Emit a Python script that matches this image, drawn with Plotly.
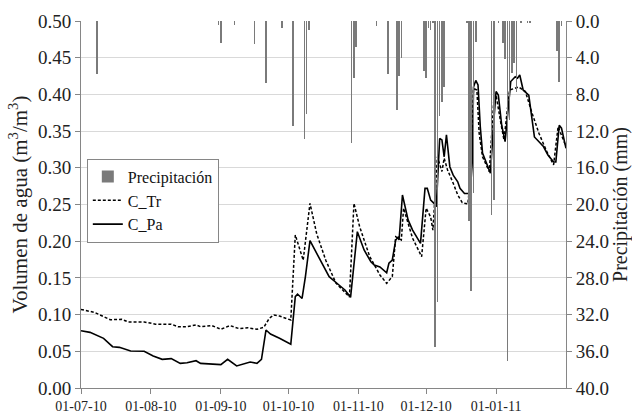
import plotly.graph_objects as go

# ---- Data ----
tr_dates = ["2010-07-01", "2010-07-07", "2010-07-14", "2010-07-19", "2010-07-22", "2010-07-29",
            "2010-08-03", "2010-08-10", "2010-08-13", "2010-08-17", "2010-08-21", "2010-08-23",
            "2010-08-28", "2010-09-01", "2010-09-05", "2010-09-09", "2010-09-13", "2010-09-17",
            "2010-09-20", "2010-09-22 12:00", "2010-09-24 12:00", "2010-09-27", "2010-10-02",
            "2010-10-04", "2010-10-07 12:00", "2010-10-10 12:00", "2010-10-13 12:00",
            "2010-10-17 12:00", "2010-10-22", "2010-10-28", "2010-10-30", "2010-11-01 12:00",
            "2010-11-06", "2010-11-10 12:00", "2010-11-13 12:00", "2010-11-16", "2010-11-17 12:00",
            "2010-11-20", "2010-11-21", "2010-11-25", "2010-11-29", "2010-12-01", "2010-12-03",
            "2010-12-04", "2010-12-06", "2010-12-08", "2010-12-09", "2010-12-10 12:00",
            "2010-12-13", "2010-12-15", "2010-12-17", "2010-12-19 12:00", "2010-12-21",
            "2010-12-22", "2010-12-23 12:00", "2010-12-24 12:00", "2010-12-26", "2010-12-29",
            "2010-12-31", "2011-01-01", "2011-01-03", "2011-01-04 12:00", "2011-01-06",
            "2011-01-07", "2011-01-11", "2011-01-14", "2011-01-17", "2011-01-20",
            "2011-01-23 12:00", "2011-01-26 12:00", "2011-01-28 12:00", "2011-01-30", "2011-02-01"]
tr_values = [0.107, 0.103, 0.093, 0.0936, 0.090, 0.090,
             0.087, 0.087, 0.0835, 0.0835, 0.086, 0.0835,
             0.085, 0.080, 0.085, 0.081, 0.082, 0.080,
             0.0826, 0.095, 0.0995, 0.098, 0.0926,
             0.2085, 0.174, 0.2516, 0.210,
             0.174, 0.143, 0.124, 0.2516, 0.220,
             0.179, 0.154, 0.1426, 0.1517, 0.206,
             0.2016, 0.245, 0.204, 0.179, 0.245, 0.233,
             0.215, 0.315, 0.295, 0.313, 0.297,
             0.279, 0.263, 0.2525, 0.2507, 0.297,
             0.408, 0.406, 0.347, 0.315, 0.2947,
             0.392, 0.399, 0.363, 0.338, 0.379,
             0.406, 0.410, 0.404, 0.374, 0.347,
             0.322, 0.304, 0.356, 0.345, 0.329]

pa_dates = ["2010-07-01", "2010-07-05", "2010-07-11", "2010-07-15", "2010-07-18", "2010-07-23",
            "2010-07-29", "2010-08-02", "2010-08-06", "2010-08-10", "2010-08-14", "2010-08-17",
            "2010-08-21", "2010-08-23", "2010-09-01", "2010-09-04", "2010-09-08", "2010-09-14",
            "2010-09-17", "2010-09-19", "2010-09-21", "2010-09-23", "2010-09-27", "2010-10-02",
            "2010-10-04", "2010-10-05", "2010-10-07", "2010-10-08 12:00", "2010-10-10 12:00",
            "2010-10-13 12:00", "2010-10-16", "2010-10-19", "2010-10-23 12:00", "2010-10-26",
            "2010-10-28 12:00", "2010-10-31 12:00", "2010-11-03 12:00", "2010-11-06 12:00",
            "2010-11-08", "2010-11-10 12:00", "2010-11-13 12:00", "2010-11-14 12:00",
            "2010-11-16", "2010-11-17 12:00", "2010-11-18 12:00", "2010-11-19",
            "2010-11-20 12:00", "2010-11-23", "2010-11-25", "2010-11-28 12:00",
            "2010-11-30 12:00", "2010-12-01 12:00", "2010-12-03", "2010-12-04 12:00",
            "2010-12-05 12:00", "2010-12-07", "2010-12-08", "2010-12-09", "2010-12-10",
            "2010-12-11 12:00", "2010-12-13", "2010-12-15", "2010-12-16", "2010-12-18",
            "2010-12-20 12:00", "2010-12-21 12:00", "2010-12-22", "2010-12-23", "2010-12-24",
            "2010-12-25", "2010-12-26", "2010-12-28", "2010-12-29 12:00", "2010-12-31",
            "2011-01-01", "2011-01-02", "2011-01-03 12:00", "2011-01-05", "2011-01-06",
            "2011-01-07 12:00", "2011-01-09 12:00", "2011-01-10 12:00", "2011-01-11 12:00",
            "2011-01-13", "2011-01-15 12:00", "2011-01-18", "2011-01-22", "2011-01-24",
            "2011-01-26 12:00", "2011-01-27 12:00", "2011-01-29", "2011-01-30", "2011-02-01"]
pa_values = [0.078, 0.0758, 0.0677, 0.0563, 0.0554, 0.0504,
             0.050, 0.0436, 0.039, 0.040, 0.0336, 0.0345,
             0.0372, 0.0336, 0.0318, 0.039, 0.030, 0.0354,
             0.0336, 0.039, 0.079, 0.0736, 0.0677, 0.0595,
             0.1244, 0.128, 0.122, 0.152, 0.2007,
             0.1835, 0.1676, 0.1516, 0.140, 0.1335,
             0.1235, 0.213, 0.188, 0.172,
             0.1676, 0.165, 0.157, 0.170,
             0.1744, 0.2016, 0.205, 0.2016,
             0.263, 0.229, 0.215, 0.197,
             0.272, 0.272, 0.256, 0.2516,
             0.247, 0.340, 0.338, 0.315, 0.345,
             0.3015, 0.290, 0.281, 0.272, 0.265,
             0.265, 0.310, 0.410, 0.419, 0.413,
             0.356, 0.320, 0.304, 0.2925, 0.365,
             0.404, 0.399, 0.358, 0.3356, 0.370,
             0.4175, 0.424, 0.422, 0.4265,
             0.406, 0.399, 0.342, 0.329, 0.3175,
             0.308, 0.308, 0.358, 0.354, 0.3265]

rain_dates = ["2010-07-08", "2010-08-31", "2010-09-01", "2010-09-07", "2010-09-16", "2010-09-21",
              "2010-09-28", "2010-10-03", "2010-10-08", "2010-10-09", "2010-10-10", "2010-10-29",
              "2010-10-30", "2010-10-31", "2010-11-09", "2010-11-14", "2010-11-18", "2010-11-19",
              "2010-11-20", "2010-11-30", "2010-12-01", "2010-12-02", "2010-12-03", "2010-12-04",
              "2010-12-05", "2010-12-06", "2010-12-07", "2010-12-08", "2010-12-09", "2010-12-19",
              "2010-12-20", "2010-12-21", "2010-12-22", "2010-12-23", "2010-12-30", "2010-12-31",
              "2011-01-02", "2011-01-04", "2011-01-05", "2011-01-06", "2011-01-07", "2011-01-08",
              "2011-01-09", "2011-01-10", "2011-01-12", "2011-01-15", "2011-01-16", "2011-01-28",
              "2011-01-29", "2011-01-30"]
rain_mm = [5.8, 0.4, 2.4, 0.4, 2.5, 6.8,
           0.8, 11.4, 12.9, 10.1, 1.0, 13.3,
           6.2, 2.8, 0.5, 5.8, 9.7, 6.0,
           4.0, 5.5, 6.2, 0.8, 1.0, 0.2,
           35.5, 30.6, 10.4, 8.8, 7.2, 0.2,
           21.8, 29.4, 18.8, 2.3, 21.1, 19.5,
           0.2, 2.4, 4.1, 37.1, 10.8, 5.7,
           4.6, 7.7, 0.2, 0.2, 0.2, 3.3,
           6.6, 0.5]

tick_dates = ["2010-07-01", "2010-08-01", "2010-09-01", "2010-10-01", "2010-11-01",
              "2010-12-01", "2011-01-01"]
tick_labels = ["01-07-10", "01-08-10", "01-09-10", "01-10-10", "01-11-10",
               "01-12-10", "01-01-11"]

FONT = "Liberation Serif"
AXC = "#868686"
TXT = "#222222"

fig = go.Figure()
fig.add_trace(go.Bar(x=rain_dates, y=rain_mm, yaxis="y2", name="Precipitación",
                     marker=dict(color="#7a7a7a", line=dict(width=0)),
                     width=0.25 * 86400000))
fig.add_trace(go.Scatter(x=tr_dates, y=tr_values, mode="lines", name="C_Tr",
                         line=dict(color="black", width=1.5, dash="3px,2px")))
fig.add_trace(go.Scatter(x=pa_dates, y=pa_values, mode="lines", name="C_Pa",
                         line=dict(color="black", width=1.6)))

fig.update_layout(
    width=632, height=414,
    margin=dict(l=81, r=66, t=21, b=26),
    paper_bgcolor="white", plot_bgcolor="white",
    font=dict(family=FONT, color=TXT, size=15),
    showlegend=True,
    legend=dict(x=0.012, y=0.625, xanchor="left", yanchor="top",
                bgcolor="white", bordercolor=AXC, borderwidth=1,
                font=dict(family=FONT, size=16, color="#111"),
                itemwidth=30, tracegroupgap=0,
                traceorder="normal"),
    bargap=0,
    xaxis=dict(type="date", range=["2010-07-01", "2011-02-01"],
               tickvals=tick_dates, ticktext=tick_labels, automargin=False,
               showgrid=False, showline=True, linecolor=AXC, linewidth=1,
               ticks="outside", ticklen=5, tickcolor=AXC,
               tickfont=dict(family=FONT, size=14, color=TXT),
               zeroline=False),
    yaxis=dict(range=[0, 0.5], dtick=0.05, tickformat=".2f", automargin=False,
               showgrid=True, gridcolor="#d9d9d9", gridwidth=1,
               showline=True, linecolor=AXC, linewidth=1,
               ticks="outside", ticklen=5, tickcolor=AXC,
               tickfont=dict(family=FONT, size=19, color=TXT),
               title=dict(text="Volumen de agua (m<sup>3</sup>/m<sup>3</sup>)",
                          font=dict(family=FONT, size=21, color=TXT), standoff=4),
               zeroline=False),
    yaxis2=dict(range=[40, 0], dtick=4, tickformat=".1f", overlaying="y", side="right",
                automargin=False,
                showgrid=False, showline=True, linecolor=AXC, linewidth=1,
                ticks="outside", ticklen=5, tickcolor=AXC,
                tickfont=dict(family=FONT, size=19, color=TXT),
                title=dict(text="Precipitación (mm)",
                           font=dict(family=FONT, size=20, color=TXT), standoff=0),
                zeroline=False),
)

fig.write_html("out.html")
